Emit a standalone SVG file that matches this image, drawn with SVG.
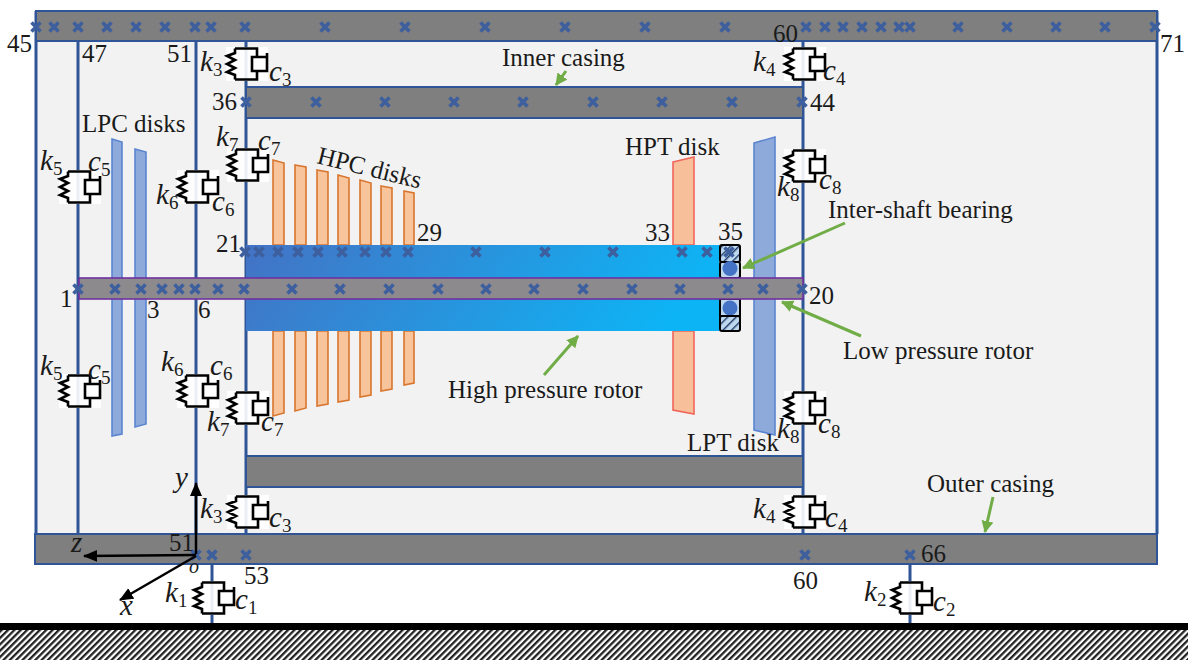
<svg xmlns="http://www.w3.org/2000/svg" width="1188" height="660" viewBox="0 0 1188 660">
<style>
text{font-family:"Liberation Serif","Times New Roman",serif;fill:#1a1a1a;font-size:25px}
.m{font-style:italic;font-size:29px}
.s{font-style:normal;font-size:19px}
.case{fill:#7f7f7f;stroke:#2f5597;stroke-width:2}
.v{stroke:#2f5597;stroke-width:3;fill:none}
.hpc{fill:#f8c49c;stroke:#d9762e;stroke-width:1.6}
.lpc{fill:#8eaadb;stroke:#5b85d0;stroke-width:1.6}
.arr{stroke:#70ad47;stroke-width:3;fill:none;marker-end:url(#g)}
.ax{stroke:#000;stroke-width:2.5;fill:none;marker-end:url(#b)}
.sd{fill:none;stroke:#000;stroke-width:2.600}
</style>
<defs>
<marker id="g" markerUnits="userSpaceOnUse" markerWidth="14" markerHeight="14" refX="11" refY="6" orient="auto"><path d="M0 0L12 6L0 12z" fill="#70ad47"/></marker>
<marker id="b" markerUnits="userSpaceOnUse" markerWidth="16" markerHeight="14" refX="13" refY="6" orient="auto"><path d="M0 0L14 6L0 12z" fill="#000"/></marker>
<linearGradient id="rot" x1="0" y1="0" x2="1" y2="0.15"><stop offset="0" stop-color="#4472c4"/><stop offset="1" stop-color="#0db4f5"/></linearGradient>
<pattern id="h" width="4.500" height="4.500" patternUnits="userSpaceOnUse" patternTransform="rotate(45)"><rect width="4.500" height="4.500" fill="#fff"/><rect width="2.300" height="4.500" fill="#222"/></pattern>
<pattern id="hb" width="6" height="6" patternUnits="userSpaceOnUse" patternTransform="rotate(45)"><rect width="6" height="6" fill="#bdd7ee"/><rect width="1.400" height="6" fill="#1f3864"/></pattern>
<g id="x"><path d="M-4.500 -4.500L4.500 4.500M4.500 -4.500L-4.500 4.500" stroke="#3d5f9e" stroke-width="3.600" fill="none"/></g>
<g id="sd">
<rect x="-19" y="-17" width="42" height="34" fill="#fff" opacity="0.9"/>
<path class="sd" d="M-10 -15.500H12V-7.500M-10 15.500H12V7.500M-10 -15.500V-11L-18 -8L-10 -4L-18 0L-10 4L-18 8L-10 11V15.500"/>
<path class="sd" d="M22 -11V7H7V-7H22"/>
</g>
</defs>

<rect id="panel" x="36" y="11" width="1121" height="553" fill="#f2f2f2"/>

<g id="connectors">
<path class="v" d="M36 11V534M78 41V534M196 41V545M246 41V534M803 41V534M1157 11V534M212 564V623M910 564V623"/>
</g>

<g id="casings">
<rect id="top-casing" class="case" x="36" y="11" width="1121" height="30"/>
<rect id="bottom-casing" class="case" x="35" y="534" width="1122" height="30"/>
<rect id="inner-casing-top" class="case" x="246" y="87" width="557" height="31"/>
<rect id="inner-casing-bottom" class="case" x="246" y="456" width="557" height="31"/>
</g>

<g id="disks">
<path class="lpc" d="M112 139L122 142V434L112 436z"/>
<path class="lpc" d="M135 149L146 152V424L135 427z"/>
<path class="lpc" d="M754 143L775 137V435L754 430z"/>
<path class="hpc" d="M273 160L284 163V245H273zM273 331H284V413L273 416z"/>
<path class="hpc" d="M295 165L306 167V245H295zM295 331H306V408L295 411z"/>
<path class="hpc" d="M317 170L328 172V245H317zM317 331H328V404L317 406z"/>
<path class="hpc" d="M338 175L349 178V245H338zM338 331H349V400L338 402z"/>
<path class="hpc" d="M360 180L371 183V245H360zM360 331H371V395L360 397z"/>
<path class="hpc" d="M381 186L392 188V245H381zM381 331H392V389L381 391z"/>
<path class="hpc" d="M404 191L414 193V245H404zM404 331H414V383L404 385z"/>
<path d="M673 162L694 157V245H673zM673 331H694V414L673 410z" fill="#f8c09a" stroke="#f0655a" stroke-width="1.6"/>
</g>

<g id="hp-rotor">
<rect x="246" y="245" width="474" height="86" fill="url(#rot)"/>
</g>
<g id="bearing">
<rect x="719" y="245" width="22" height="86" fill="#bdd7ee"/>
<rect x="720" y="245" width="20" height="17" rx="2" fill="url(#hb)" stroke="#000" stroke-width="2"/>
<rect x="720" y="262" width="20" height="16" rx="2" fill="#bdd7ee" stroke="#000" stroke-width="2"/>
<circle cx="730" cy="268.500" r="7.500" fill="#4472c4"/>
<rect x="720" y="299" width="20" height="17" fill="#bdd7ee" stroke="#000" stroke-width="2"/>
<circle cx="730" cy="308" r="7.500" fill="#4472c4"/>
<rect x="720" y="316" width="20" height="15" rx="2" fill="url(#hb)" stroke="#000" stroke-width="2"/>
</g>
<g id="lp-shaft">
<rect x="79" y="278" width="724" height="21" fill="#8d8a8e" stroke="#7030a0" stroke-width="1.600"/>
</g>

<g id="supports">
<use href="#sd" x="245" y="64"/>
<use href="#sd" x="246" y="165"/>
<use href="#sd" x="78" y="187"/>
<use href="#sd" x="196" y="187"/>
<use href="#sd" x="78" y="391"/>
<use href="#sd" x="196" y="391"/>
<use href="#sd" x="246" y="408"/>
<use href="#sd" x="246" y="512"/>
<use href="#sd" x="803" y="64"/>
<use href="#sd" x="803" y="166"/>
<use href="#sd" x="803" y="408"/>
<use href="#sd" x="803" y="512"/>
<use href="#sd" x="212" y="598"/>
<use href="#sd" x="910" y="598"/>
</g>

<g id="marks">
<use href="#x" x="36" y="27"/><use href="#x" x="54" y="27"/><use href="#x" x="78" y="27"/><use href="#x" x="107" y="27"/><use href="#x" x="136" y="27"/><use href="#x" x="165" y="27"/><use href="#x" x="195" y="27"/><use href="#x" x="211" y="27"/><use href="#x" x="245" y="27"/><use href="#x" x="325" y="27"/><use href="#x" x="405" y="27"/><use href="#x" x="485" y="27"/><use href="#x" x="565" y="27"/><use href="#x" x="645" y="27"/><use href="#x" x="725" y="27"/><use href="#x" x="806" y="27"/><use href="#x" x="825" y="27"/><use href="#x" x="843" y="27"/><use href="#x" x="862" y="27"/><use href="#x" x="881" y="27"/><use href="#x" x="899" y="27"/><use href="#x" x="910" y="27"/><use href="#x" x="958" y="27"/><use href="#x" x="1007" y="27"/><use href="#x" x="1056" y="27"/><use href="#x" x="1105" y="27"/><use href="#x" x="1155" y="27"/>
<use href="#x" x="246" y="102"/><use href="#x" x="316" y="102"/><use href="#x" x="385" y="102"/><use href="#x" x="454" y="102"/><use href="#x" x="523" y="102"/><use href="#x" x="593" y="102"/><use href="#x" x="662" y="102"/><use href="#x" x="732" y="102"/><use href="#x" x="802" y="102"/>
<use href="#x" x="245" y="252"/><use href="#x" x="259" y="252"/><use href="#x" x="278" y="252"/><use href="#x" x="298" y="252"/><use href="#x" x="318" y="252"/><use href="#x" x="342" y="252"/><use href="#x" x="365" y="252"/><use href="#x" x="386" y="252"/><use href="#x" x="408" y="252"/><use href="#x" x="476" y="252"/><use href="#x" x="545" y="252"/><use href="#x" x="613" y="252"/><use href="#x" x="682" y="252"/><use href="#x" x="707" y="252"/><use href="#x" x="729" y="252"/>
<use href="#x" x="78" y="289"/><use href="#x" x="115" y="289"/><use href="#x" x="141" y="289"/><use href="#x" x="162" y="289"/><use href="#x" x="179" y="289"/><use href="#x" x="195" y="289"/><use href="#x" x="218" y="289"/><use href="#x" x="244" y="289"/><use href="#x" x="292" y="289"/><use href="#x" x="340" y="289"/><use href="#x" x="389" y="289"/><use href="#x" x="438" y="289"/><use href="#x" x="486" y="289"/><use href="#x" x="534" y="289"/><use href="#x" x="583" y="289"/><use href="#x" x="632" y="289"/><use href="#x" x="680" y="289"/><use href="#x" x="728" y="289"/><use href="#x" x="763" y="289"/><use href="#x" x="802" y="289"/>
<use href="#x" x="196" y="555"/><use href="#x" x="212" y="555"/><use href="#x" x="246" y="555"/><use href="#x" x="805" y="555"/><use href="#x" x="910" y="555"/>
</g>

<g id="ground">
<rect x="0" y="630" width="1188" height="30" fill="url(#h)"/>
<rect x="0" y="623" width="1188" height="7" fill="#000"/>
</g>

<g id="arrows">
<path class="arr" d="M566 71L556 85"/>
<path class="arr" d="M544 375L578 336"/>
<path class="arr" d="M845 223L743 268"/>
<path class="arr" d="M861 336L782 302"/>
<path class="arr" d="M993 497L985 532"/>
</g>
<g id="axes">
<path class="ax" d="M196 554V483"/>
<path class="ax" d="M196 555L84 556"/>
<path class="ax" d="M196 556L120 600"/>
</g>

<g id="labels">
<text x="7" y="52">45</text><text x="82" y="62">47</text><text x="167" y="62">51</text><text x="212" y="110">36</text><text x="216" y="252">21</text><text x="417" y="241">29</text><text x="645" y="241">33</text><text x="718" y="240">35</text><text x="60" y="307">1</text><text x="147" y="318">3</text><text x="198" y="318">6</text><text x="809" y="304">20</text><text x="773" y="42">60</text><text x="810" y="111">44</text><text x="1160" y="52">71</text><text x="169" y="551">51</text><text x="244" y="584">53</text><text x="793" y="589">60</text><text x="921" y="562">66</text>
<text x="502" y="66">Inner casing</text>
<text x="82" y="132">LPC disks</text>
<text x="316" y="163" transform="rotate(14 316 163)">HPC disks</text>
<text x="625" y="155">HPT disk</text>
<text x="828" y="218">Inter-shaft bearing</text>
<text x="843" y="359">Low pressure rotor</text>
<text x="448" y="398">High pressure rotor</text>
<text x="687" y="451">LPT disk</text>
<text x="927" y="492">Outer casing</text>
<text class="m" x="200" y="71">k<tspan class="s" dy="5">3</tspan></text>
<text class="m" x="269" y="81">c<tspan class="s" dy="5">3</tspan></text>
<text class="m" x="216" y="146">k<tspan class="s" dy="5">7</tspan></text>
<text class="m" x="258" y="150">c<tspan class="s" dy="5">7</tspan></text>
<text class="m" x="40" y="170">k<tspan class="s" dy="5">5</tspan></text>
<text class="m" x="88" y="171">c<tspan class="s" dy="5">5</tspan></text>
<text class="m" x="156" y="204">k<tspan class="s" dy="5">6</tspan></text>
<text class="m" x="212" y="211">c<tspan class="s" dy="5">6</tspan></text>
<text class="m" x="40" y="375">k<tspan class="s" dy="5">5</tspan></text>
<text class="m" x="88" y="379">c<tspan class="s" dy="5">5</tspan></text>
<text class="m" x="161" y="371">k<tspan class="s" dy="5">6</tspan></text>
<text class="m" x="210" y="375">c<tspan class="s" dy="5">6</tspan></text>
<text class="m" x="207" y="431">k<tspan class="s" dy="5">7</tspan></text>
<text class="m" x="261" y="431">c<tspan class="s" dy="5">7</tspan></text>
<text class="m" x="200" y="518">k<tspan class="s" dy="5">3</tspan></text>
<text class="m" x="269" y="527">c<tspan class="s" dy="5">3</tspan></text>
<text class="m" x="165" y="602">k<tspan class="s" dy="5">1</tspan></text>
<text class="m" x="235" y="609">c<tspan class="s" dy="5">1</tspan></text>
<text class="m" x="753" y="71">k<tspan class="s" dy="5">4</tspan></text>
<text class="m" x="823" y="80">c<tspan class="s" dy="5">4</tspan></text>
<text class="m" x="777" y="196">k<tspan class="s" dy="5">8</tspan></text>
<text class="m" x="819" y="189">c<tspan class="s" dy="5">8</tspan></text>
<text class="m" x="777" y="438">k<tspan class="s" dy="5">8</tspan></text>
<text class="m" x="818" y="433">c<tspan class="s" dy="5">8</tspan></text>
<text class="m" x="753" y="518">k<tspan class="s" dy="5">4</tspan></text>
<text class="m" x="825" y="527">c<tspan class="s" dy="5">4</tspan></text>
<text class="m" x="864" y="601">k<tspan class="s" dy="5">2</tspan></text>
<text class="m" x="933" y="611">c<tspan class="s" dy="5">2</tspan></text>
<text class="m" x="175" y="487">y</text>
<text class="m" x="71" y="552">z</text>
<text class="m" x="120" y="615">x</text>
<text class="m" x="189" y="573" style="font-size:20px">o</text>
</g>
</svg>
